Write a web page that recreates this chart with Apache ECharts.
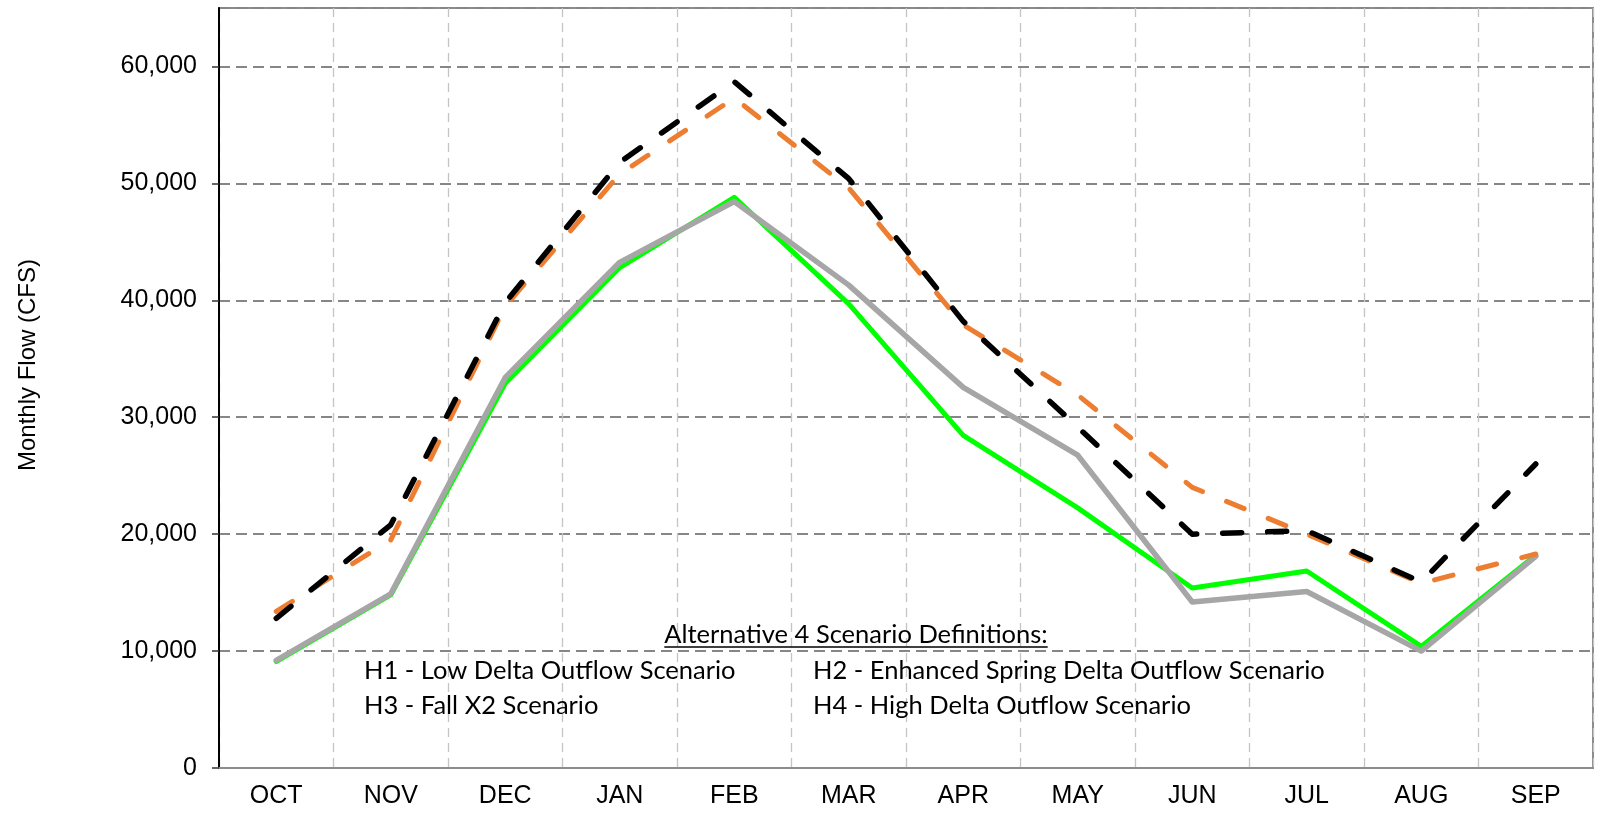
<!DOCTYPE html>
<html>
<head>
<meta charset="utf-8">
<script src="https://cdn.jsdelivr.net/npm/echarts@6/dist/echarts.min.js"></script>
<style>
html,body{margin:0;padding:0;background:#fff;}
#chart{width:1606px;height:817px;}
</style>
</head>
<body>
<div id="chart"></div>
<script>
const months = ['OCT','NOV','DEC','JAN','FEB','MAR','APR','MAY','JUN','JUL','AUG','SEP'];
const yTicks = [0,10000,20000,30000,40000,50000,60000];
const greenVals  = [9100,14800,32900,42800,48800,39700,28450,22250,15400,16850,10400,18200];
const grayVals   = [9200,14900,33400,43250,48450,41300,32550,26750,14200,15100,10000,18100];
const orangeVals = [13400,19500,39500,50800,57300,49600,37900,31900,24000,20000,15800,18300];
const blackVals  = [12800,20800,39800,51800,58700,50400,38200,29150,20000,20300,15900,26000];
const yTitle = 'Monthly Flow (CFS)';
const noteTitle = 'Alternative 4 Scenario Definitions:';
const notes = ['H1 - Low Delta Outflow Scenario','H2 - Enhanced Spring Delta Outflow Scenario','H3 - Fall X2 Scenario','H4 - High Delta Outflow Scenario'];

const chart = echarts.init(document.getElementById('chart'), null, {renderer:'canvas'});
const noteFont = '25.5px Lato';
const cv = document.createElement('canvas').getContext('2d');
cv.font = noteFont;
const tw = cv.measureText(noteTitle).width;
const titleCx = 856;

function lineSeries(name, data, color, width, dashed, z){
  return {
    name, type:'line', data, symbol:'none', z,
    lineStyle:{color, width, type: dashed ? [19,26] : 'solid', cap:'round', join:'round'},
    emphasis:{disabled:true}
  };
}

chart.setOption({
  animation:false,
  grid:{left:219, right:13, top:8, bottom:49, show:true, borderColor:'#8c8c8c', borderWidth:2, containLabel:false},
  xAxis:{
    type:'category', data:months, boundaryGap:true,
    axisLine:{show:true, lineStyle:{color:'#8c8c8c', width:2}},
    axisTick:{show:false},
    axisLabel:{color:'#000', fontFamily:'Liberation Sans', fontSize:25, margin:16},
    splitLine:{show:true, lineStyle:{color:'#c4c4c4', width:1.3, type:[9,6]}}
  },
  yAxis:{
    type:'value', min:0, max:65000, interval:10000,
    axisLine:{show:true, lineStyle:{color:'#000', width:2}},
    axisTick:{show:true, length:7, inside:false, lineStyle:{color:'#333', width:1.5}},
    axisLabel:{color:'#000', fontFamily:'Liberation Sans', fontSize:25, margin:22, showMaxLabel:false,
      formatter:v => yTicks.indexOf(v) >= 0 ? v.toLocaleString('en-US') : ''},
    splitLine:{show:true, lineStyle:{color:'#868686', width:2, type:[11,6]}}
  },
  series:[
    lineSeries('H1', greenVals, '#00ff00', 5, false, 2),
    lineSeries('H2', grayVals, '#a6a6a6', 5.5, false, 3),
    lineSeries('H4', orangeVals, '#ed7d31', 5, true, 4),
    lineSeries('H3', blackVals, '#000000', 5.5, true, 5)
  ],
  graphic:[
    {type:'text', x:28, y:365, rotation:Math.PI/2, z:10,
      style:{text:yTitle, font:'24px "Liberation Sans"', fill:'#000', align:'center', verticalAlign:'middle'}},
    {type:'text', x:titleCx, y:635, z:10,
      style:{text:noteTitle, font:noteFont, fill:'#000', align:'center', verticalAlign:'middle'}},
    {type:'line', z:10, shape:{x1:titleCx - tw/2, y1:647, x2:titleCx + tw/2, y2:647},
      style:{stroke:'#000', lineWidth:1.5}},
    {type:'text', x:364, y:671, z:10, style:{text:notes[0], font:noteFont, fill:'#000', align:'left', verticalAlign:'middle'}},
    {type:'text', x:813, y:671, z:10, style:{text:notes[1], font:noteFont, fill:'#000', align:'left', verticalAlign:'middle'}},
    {type:'text', x:364, y:706, z:10, style:{text:notes[2], font:noteFont, fill:'#000', align:'left', verticalAlign:'middle'}},
    {type:'text', x:813, y:706, z:10, style:{text:notes[3], font:noteFont, fill:'#000', align:'left', verticalAlign:'middle'}}
  ]
});
</script>
</body>
</html>
